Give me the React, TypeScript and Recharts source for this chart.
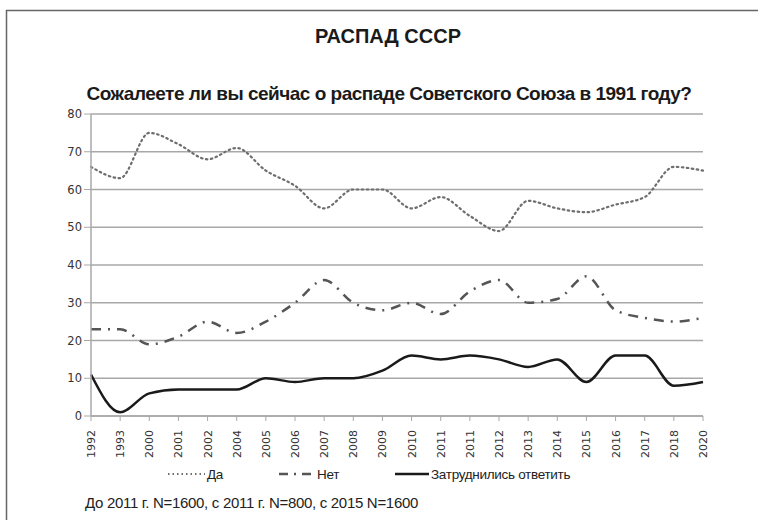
import React from "react";
import { LineChart, Line, XAxis, YAxis, CartesianGrid } from "recharts";

const YEARS = [
  "1992", "1993", "2000", "2001", "2002", "2004", "2005", "2006", "2007", "2008", "2009",
  "2010", "2011", "2011", "2012", "2013", "2014", "2015", "2016", "2017", "2018", "2020",
];
const YES = [66, 63, 75, 72, 68, 71, 65, 61, 55, 60, 60, 55, 58, 53, 49, 57, 55, 54, 56, 58, 66, 65];
const NO = [23, 23, 19, 21, 25, 22, 25, 30, 36, 30, 28, 30, 27, 33, 36, 30, 31, 37, 28, 26, 25, 26];
const HARD = [11, 1, 6, 7, 7, 7, 10, 9, 10, 10, 12, 16, 15, 16, 15, 13, 15, 9, 16, 16, 8, 9];
const Y_TICKS = [0, 10, 20, 30, 40, 50, 60, 70, 80];

const SANS = "'Liberation Sans', Arial, sans-serif";
const AXIS_FONT = "'DejaVu Sans', Verdana, sans-serif";
const GRID = "#a8a8a8";

const data = YEARS.map((year, i) => ({ idx: i, year, yes: YES[i], no: NO[i], hard: HARD[i] }));

function YearTick(props: any) {
  const { x, y, payload } = props;
  return (
    <text
      x={0}
      y={0}
      transform={`translate(${x + 4},${y + 7}) rotate(-90)`}
      textAnchor="end"
      fontSize={11}
      fontFamily={AXIS_FONT}
      fill="#333"
    >
      {YEARS[payload.value]}
    </text>
  );
}

const LEGEND = [
  { label: "Да", dash: "1.5 3", color: "#6e6e6e", width: 2, x: 168, len: 37 },
  { label: "Нет", dash: "9 6 2 6", color: "#555", width: 2.5, x: 279, len: 36 },
  { label: "Затруднились ответить", dash: undefined, color: "#1a1a1a", width: 2.5, x: 395, len: 34 },
];

function Overlay() {
  return (
    <svg
      width={758}
      height={520}
      style={{ position: "absolute", left: 0, top: 0, pointerEvents: "none" }}
    >
      <path d="M6.5 520 V10.5 H758" fill="none" stroke="#666" strokeWidth={1.5} />
      <text
        x={388}
        y={43}
        textAnchor="middle"
        fontFamily={SANS}
        fontWeight="bold"
        fontSize={20}
        fill="#1a1a1a"
      >
        РАСПАД СССР
      </text>
      <text
        x={389}
        y={100}
        textAnchor="middle"
        fontFamily={SANS}
        fontWeight="bold"
        fontSize={19}
        letterSpacing={-0.5}
        fill="#1a1a1a"
      >
        Сожалеете ли вы сейчас о распаде Советского Союза в 1991 году?
      </text>
      {LEGEND.map((l) => (
        <g key={l.label}>
          <line
            x1={l.x}
            x2={l.x + l.len}
            y1={474}
            y2={474}
            stroke={l.color}
            strokeWidth={l.width}
            strokeDasharray={l.dash}
          />
          <text
            x={l.x + l.len + 2}
            y={478.5}
            fontSize={13.5}
            letterSpacing={-0.3}
            fontFamily={SANS}
            fill="#222"
          >
            {l.label}
          </text>
        </g>
      ))}
      <text x={85} y={508} fontFamily={SANS} fontSize={15} letterSpacing={-0.3} fill="#222">
        До 2011 г. N=1600, с 2011 г. N=800, с 2015 N=1600
      </text>
    </svg>
  );
}

export default function App() {
  return (
    <div
      style={{
        position: "fixed",
        left: 0,
        top: 0,
        width: 758,
        height: 520,
        background: "#fff",
        overflow: "hidden",
      }}
    >
      <div style={{ position: "absolute", left: 0, top: 0 }}>
        <LineChart
          width={758}
          height={520}
          data={data}
          margin={{ top: 114, right: 55, bottom: 64, left: 51 }}
        >
          <CartesianGrid vertical={false} stroke={GRID} strokeWidth={1.5} />
          <XAxis
            dataKey="idx"
            type="category"
            interval={0}
            tick={<YearTick />}
            tickLine={{ stroke: GRID }}
            axisLine={{ stroke: GRID, strokeWidth: 1.5 }}
            tickSize={5}
            height={40}
          />
          <YAxis
            domain={[0, 80]}
            ticks={Y_TICKS}
            interval={0}
            width={40}
            tick={{ fontSize: 11.5, fontFamily: AXIS_FONT, fill: "#333" }}
            tickLine={{ stroke: GRID }}
            axisLine={{ stroke: GRID, strokeWidth: 1.5 }}
            tickSize={7}
          />
          <Line
            type="monotone"
            dataKey="yes"
            stroke="#6e6e6e"
            strokeWidth={2.2}
            strokeDasharray="1.5 3.5"
            strokeLinecap="round"
            dot={false}
            isAnimationActive={false}
          />
          <Line
            type="monotone"
            dataKey="no"
            stroke="#555"
            strokeWidth={2.5}
            strokeDasharray="10 7 2 7"
            dot={false}
            isAnimationActive={false}
          />
          <Line
            type="monotone"
            dataKey="hard"
            stroke="#1a1a1a"
            strokeWidth={2.5}
            dot={false}
            isAnimationActive={false}
          />
        </LineChart>
      </div>
      <Overlay />
    </div>
  );
}
